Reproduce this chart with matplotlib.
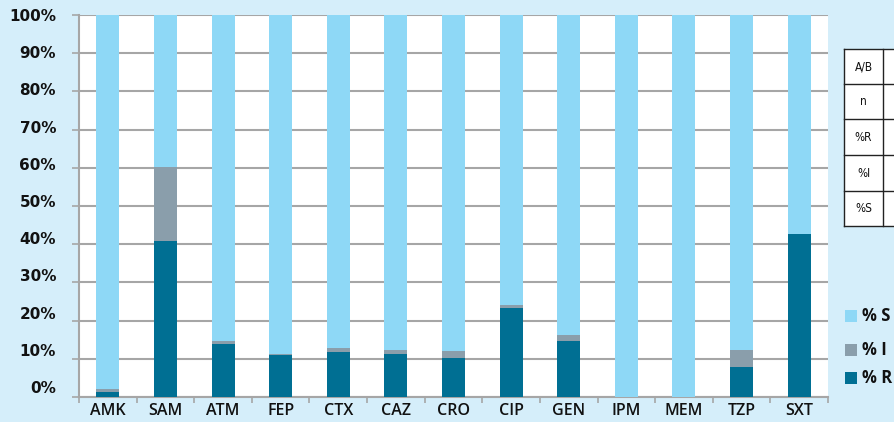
import matplotlib
matplotlib.use("Agg")
import matplotlib.pyplot as plt
import matplotlib.transforms as mtransforms
from matplotlib.patches import Rectangle
from matplotlib.lines import Line2D
import numpy as np

categories = ["AMK", "SAM", "ATM", "FEP", "CTX", "CAZ", "CRO", "CIP", "GEN", "IPM", "MEM", "TZP", "SXT"]
pct_R = [1.2, 40.8, 13.9, 11.0, 11.8, 11.2, 10.3, 23.4, 14.7, 0.0, 0.0, 7.8, 42.8]
pct_I = [0.8, 19.5, 0.8, 0.3, 1.1, 1.1, 1.8, 0.8, 1.6, 0.0, 0.0, 4.5, 0.0]
pct_S = [100 - r - i for r, i in zip(pct_R, pct_I)]
ytick_values = [0, 10, 20, 30, 40, 50, 60, 70, 80, 90, 100]
ytick_labels = ["0%", "10%", "20%", "30%", "40%", "50%", "60%", "70%", "80%", "90%", "100%"]
table_rows = ["A/B", "n", "%R", "%I", "%S"]
legend_labels = ["% S", "% I", "% R"]

BG = "#D5EEFA"
C_S = "#8ED8F6"
C_I = "#8A9EAB"
C_R = "#006F93"
GRID = "#A6A6A6"

W, H = 894, 422
fig = plt.figure(figsize=(W / 100, H / 100), dpi=100, facecolor=BG)
ax = fig.add_axes([79 / W, 1 - 397 / H, (828 - 79) / W, (397 - 15) / H])
ax.set_facecolor("white")

x = np.arange(len(categories))
bw = 0.4
ax.bar(x, pct_R, bw, color=C_R, zorder=3)
ax.bar(x, pct_I, bw, bottom=pct_R, color=C_I, zorder=3)
bottom_S = [r + i for r, i in zip(pct_R, pct_I)]
ax.bar(x, pct_S, bw, bottom=bottom_S, color=C_S, zorder=3)

ax.set_xlim(-0.5, len(categories) - 0.5)
ax.set_ylim(0, 100)

ax.set_yticks(ytick_values)
ax.set_yticklabels(ytick_labels, fontsize=11, fontweight="bold", family="DejaVu Sans", color="#111111")
ax.yaxis.grid(True, color=GRID, linewidth=1.5, zorder=0)
ax.tick_params(axis="y", length=5, width=1.2, color=GRID, pad=11.5)
for v, lbl in zip(ytick_values, ax.get_yticklabels()):
    off = mtransforms.ScaledTranslation(0, (10 - 0.1 * v) / 100, fig.dpi_scale_trans)
    lbl.set_transform(lbl.get_transform() + off)

ax.set_xticks(x)
ax.set_xticklabels(categories, fontsize=11.5, family="Open Sans", fontweight="semibold", color="#111111")
ax.set_xticks(np.arange(-0.5, len(categories), 1.0), minor=True)
ax.tick_params(axis="x", which="major", length=0, pad=4)
ax.tick_params(axis="x", which="minor", length=4.5, width=1.2, color=GRID)

for s in ["top", "right"]:
    ax.spines[s].set_visible(False)
for s in ["left", "bottom"]:
    ax.spines[s].set_color(GRID)
    ax.spines[s].set_linewidth(1.5)

# table at right (pixel coords)
def px(xp, yp):
    return xp / W, 1 - yp / H

row_edges = [49, 84, 119, 155, 191, 226]
xl, xm, xr = 844, 883, 900
fig.add_artist(Rectangle(px(xl, row_edges[-1]), (xr - xl) / W, (row_edges[-1] - row_edges[0]) / H,
                         facecolor="white", edgecolor="none", transform=fig.transFigure))
for yy in row_edges:
    fig.add_artist(Line2D([xl / W, xr / W], [1 - yy / H] * 2, color="#222222", lw=1.0))
for xx in [xl, xm]:
    fig.add_artist(Line2D([xx / W] * 2, [1 - row_edges[0] / H, 1 - row_edges[-1] / H], color="#222222", lw=1.0))
for i, name in enumerate(table_rows):
    yc = (row_edges[i] + row_edges[i + 1]) / 2
    fig.text((xl + xm) / 2 / W, 1 - yc / H, name, ha="center", va="center", fontsize=8.5,
             family="DejaVu Sans", fontstretch="condensed", color="#111111")

# legend
leg_colors = [C_S, C_I, C_R]
leg_y = [316, 350, 378]
for c, yc, lab in zip(leg_colors, leg_y, legend_labels):
    fig.add_artist(Rectangle(px(845, yc + 6), 12 / W, 12 / H, facecolor=c, edgecolor="none",
                             transform=fig.transFigure))
    fig.text(862 / W, 1 - yc / H, lab, ha="left", va="center", fontsize=12, fontweight="bold",
             family="Open Sans", color="#111111")

fig.savefig("out.png", dpi=100, facecolor=BG)
